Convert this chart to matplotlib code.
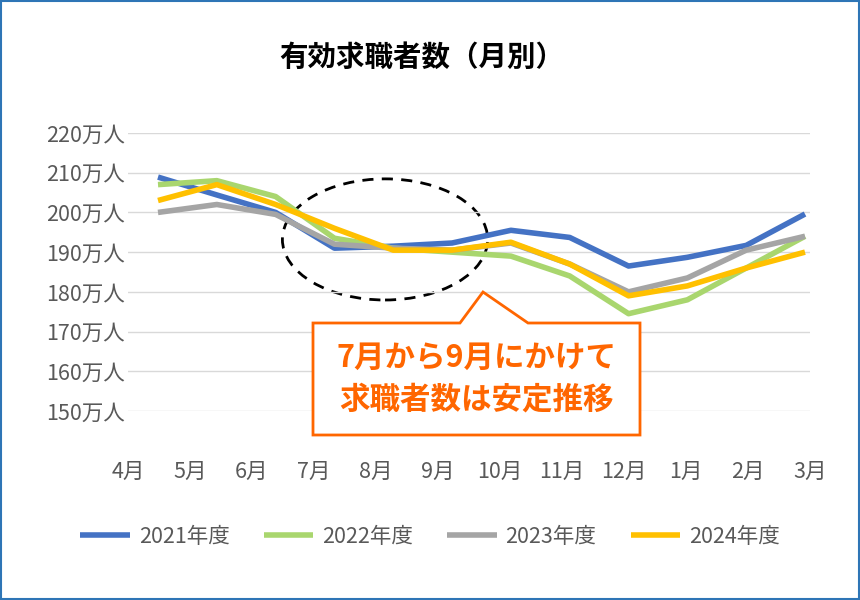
import matplotlib
matplotlib.use("Agg")
import matplotlib.pyplot as plt
from matplotlib.patches import Ellipse, Polygon, Rectangle
import numpy as np

plt.rcParams["font.family"] = "Noto Sans CJK JP"

months = ["4月","5月","6月","7月","8月","9月","10月","11月","12月","1月","2月","3月"]
y2021 = [208.9,204.4,200.0,191.0,191.5,192.3,195.5,193.7,186.5,188.7,191.7,199.6]
y2022 = [207.0,208.0,204.0,193.5,191.0,190.0,189.0,184.0,174.5,178.0,186.0,194.0]
y2023 = [200.0,202.0,199.5,192.0,191.0,190.5,192.3,187.0,180.0,183.5,190.5,194.0]
y2024 = [203.0,207.0,202.0,196.0,190.5,190.5,192.5,187.0,179.0,181.5,186.0,190.0]
series = [("2021年度", y2021, "#4472C4"), ("2022年度", y2022, "#A9D66E"),
          ("2023年度", y2023, "#A5A5A5"), ("2024年度", y2024, "#FFC000")]
yticks = [150,160,170,180,190,200,210,220]

W, H = 860, 600
fig = plt.figure(figsize=(W/100, H/100), dpi=100)
def fx(x): return x/W
def fy(y): return 1-y/H

ax = fig.add_axes([fx(128), fy(411), fx(810)-fx(128), fy(133)-fy(411)])
x = np.arange(12)
for name, vals, c in series:
    ax.plot(x, vals, color=c, lw=4, label=name, solid_capstyle="butt")
ax.set_xlim(-0.51, 11.085)
ax.set_ylim(150, 220)
ax.set_yticks(yticks)
ax.set_yticklabels([f"{v}万人" for v in yticks])
ax.set_xticks(np.linspace(-0.51, 11.085, 12))
ax.set_xticklabels(months)
ax.grid(axis="y", color="#D9D9D9", lw=1)
for s in ax.spines.values():
    s.set_visible(False)
ax.tick_params(length=0, labelsize=15.5, colors="#595959")
ax.tick_params(axis="x", pad=36)
ax.tick_params(axis="y", pad=2)

ax.add_patch(Ellipse((3.86, 193.2), 3.49, 30.5, fill=False, ls=(0,(4,3)), lw=2, color="black"))

fig.text(0.49, fy(58), "有効求職者数（月別）", ha="center", va="center", fontsize=20.5, fontweight="bold")

orange = "#FF6600"
fig.add_artist(Polygon([(fx(313),fy(323)),(fx(460),fy(323)),(fx(483),fy(292)),(fx(528),fy(323)),
                        (fx(640),fy(323)),(fx(640),fy(435)),(fx(313),fy(435))],
                       closed=True, transform=fig.transFigure, fc="white", ec=orange, lw=2))
fig.text(fx(476), fy(358), "7月から9月にかけて", ha="center", va="center", fontsize=22, fontweight="bold", color=orange)
fig.text(fx(476), fy(400), "求職者数は安定推移", ha="center", va="center", fontsize=22, fontweight="bold", color=orange)

fig.legend(loc="center", bbox_to_anchor=(0.5, fy(537)), ncol=4, frameon=False,
           fontsize=15.5, handlelength=2.3, handletextpad=0.4, columnspacing=1.6, labelcolor="#595959")

fig.add_artist(Rectangle((0.001,0.001),0.998,0.998, transform=fig.transFigure, fill=False, ec="#2E75B6", lw=1.5))
fig.savefig("out.png", dpi=100)
